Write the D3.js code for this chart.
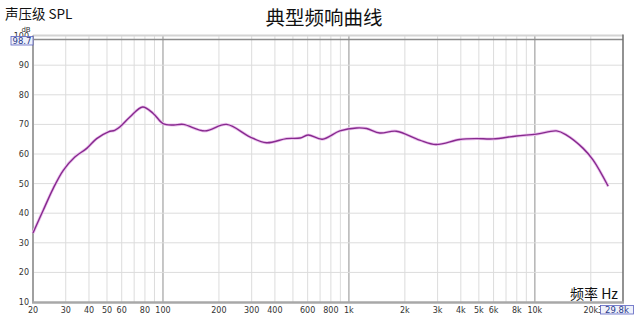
<!DOCTYPE html>
<html>
<head>
<meta charset="utf-8">
<script src="https://cdn.jsdelivr.net/npm/d3@7"></script>
<style>
  body { margin: 0; background: #fff; }
  svg { display: block; }
</style>
</head>
<body>
<svg id="chart" width="640" height="317"></svg>
<script>
// frequency response
const freqs = [20, 22.7, 25.7, 29.1, 33.6, 38.9, 44, 50.9, 55, 58.8, 66.4, 77.8, 88.6, 100, 113.7, 128.6, 168, 220, 293, 360, 462, 547, 603, 720, 894, 1100, 1245, 1466, 1800, 2400, 2940, 3940, 4840, 5960, 7980, 10200, 13100, 14800, 18200, 20600, 24800];
const spl = [33.3, 41.0, 48.4, 54.5, 59.0, 61.9, 65.2, 67.5, 68.0, 69.2, 72.5, 75.9, 73.7, 70.3, 69.8, 70.0, 67.8, 70.0, 65.8, 63.8, 65.2, 65.4, 66.4, 65.0, 67.8, 68.8, 68.6, 67.1, 67.7, 64.7, 63.2, 64.9, 65.2, 65.1, 66.1, 66.7, 67.8, 66.4, 61.9, 57.9, 49.1];

const xTickLabels = ["20", "30", "40", "50", "60", "80", "100", "200", "300", "400", "600", "800", "1k", "2k", "3k", "4k", "5k", "6k", "8k", "10k", "20k"];
const xTickValues = [20, 30, 40, 50, 60, 80, 100, 200, 300, 400, 600, 800, 1000, 2000, 3000, 4000, 5000, 6000, 8000, 10000, 20000];
const yTicks = [10, 20, 30, 40, 50, 60, 70, 80, 90, 100];
const fMin = 20, fMax = 29800, dbMin = 10, dbMax = 100, dbTop = 98.7;

const svg = d3.select("#chart");
const pLeft = 33, pRight = 623, pTop = 35.6, pBottom = 302;

const x = d3.scaleLog().domain([fMin, fMax]).range([pLeft, pRight]);
const y = d3.scaleLinear().domain([dbMin, dbMax]).range([pBottom, pTop]);

const tickFont = "DejaVu Sans, Verdana, sans-serif";
const cjk = "'Noto Sans CJK SC', sans-serif";

// vertical grid: every 1..9 step of each decade
const gridF = [];
for (let dec = 10; dec <= 10000; dec *= 10) {
  for (let m = 1; m <= 9; m++) {
    const f = dec * m;
    if (f > fMin && f < fMax) gridF.push(f);
  }
}
const decades = [100, 1000, 10000];
svg.append("g")
  .selectAll("line")
  .data(gridF)
  .join("line")
  .attr("x1", d => x(d)).attr("x2", d => x(d))
  .attr("y1", pTop).attr("y2", pBottom)
  .attr("stroke", d => decades.includes(d) ? "#b4b4b4" : "#dcdcdc")
  .attr("stroke-width", d => decades.includes(d) ? 1.5 : 1);

// horizontal grid
svg.append("g")
  .selectAll("line")
  .data(yTicks.filter(d => d > dbMin && d < dbMax))
  .join("line")
  .attr("x1", pLeft).attr("x2", pRight)
  .attr("y1", d => y(d)).attr("y2", d => y(d))
  .attr("stroke", "#dcdcdc");

// frame
svg.append("line").attr("x1", pLeft).attr("x2", pRight).attr("y1", pTop).attr("y2", pTop)
  .attr("stroke", "#d4d4d4").attr("stroke-width", 2);
svg.append("line").attr("x1", pLeft).attr("x2", pRight).attr("y1", y(dbTop)).attr("y2", y(dbTop))
  .attr("stroke", "#8c8c8c").attr("stroke-width", 1.5);
svg.append("line").attr("x1", pRight).attr("x2", pRight).attr("y1", pTop - 1).attr("y2", pBottom)
  .attr("stroke", "#6e6e6e").attr("stroke-width", 1.5);
svg.append("line").attr("x1", pLeft).attr("x2", pLeft).attr("y1", pTop).attr("y2", pBottom + 1)
  .attr("stroke", "#a0a0a0").attr("stroke-width", 2);
svg.append("line").attr("x1", pLeft - 1).attr("x2", pRight + 1).attr("y1", pBottom + 0.5).attr("y2", pBottom + 0.5)
  .attr("stroke", "#a8a8a8").attr("stroke-width", 2.5);

// y tick labels (100 sits mostly under the 98.7 marker)
svg.append("g")
  .selectAll("text")
  .data(yTicks)
  .join("text")
  .attr("x", pLeft - 4)
  .attr("y", d => y(d) + 3)
  .attr("text-anchor", "end")
  .attr("font-family", tickFont)
  .attr("font-size", 8)
  .attr("fill", "#333")
  .text(d => d);

// x tick labels
svg.append("g")
  .selectAll("text")
  .data(xTickValues)
  .join("text")
  .attr("x", d => x(d))
  .attr("y", 313)
  .attr("text-anchor", "middle")
  .attr("font-family", tickFont)
  .attr("font-size", 8)
  .attr("fill", "#333")
  .text((d, i) => xTickLabels[i]);

// "30k" label, squeezed against the edge and covered by the 29.8k marker
svg.append("text")
  .attr("x", x(20000) + 7)
  .attr("y", 313)
  .attr("font-family", tickFont)
  .attr("font-size", 8)
  .attr("fill", "#333")
  .text("30k");

// response curve
const pts = freqs.map((f, i) => [f, spl[i]]);
const line = d3.line()
  .x(d => x(d[0]))
  .y(d => y(d[1]))
  .curve(d3.curveCatmullRom.alpha(0.5));

svg.append("path").datum(pts)
  .attr("d", line).attr("fill", "none")
  .attr("stroke", "#ecc2ee").attr("stroke-width", 3);
svg.append("path").datum(pts)
  .attr("d", line).attr("fill", "none")
  .attr("stroke", "#862a8e").attr("stroke-width", 1.4);

// marker boxes
function marker(bx, by, w, txt) {
  svg.append("rect")
    .attr("x", bx).attr("y", by).attr("width", w).attr("height", 8.5)
    .attr("fill", "#eef1fb").attr("stroke", "#5a62c0").attr("stroke-width", 0.8);
  svg.append("text")
    .attr("x", bx + w / 2).attr("y", by + 7.5)
    .attr("text-anchor", "middle")
    .attr("font-family", tickFont).attr("font-size", 8.5)
    .attr("fill", "#2a3a8a")
    .text(txt);
}
marker(11, 36.5, 22, dbTop);
marker(600.5, 305.5, 33, "29.8k");

svg.append("text")
  .attr("x", 26).attr("y", 32)
  .attr("text-anchor", "middle")
  .attr("font-family", tickFont).attr("font-size", 7)
  .attr("fill", "#333")
  .text("dB");

// titles
svg.append("text")
  .attr("x", 324).attr("y", 25)
  .attr("text-anchor", "middle")
  .attr("font-family", cjk).attr("font-size", 19.5)
  .attr("fill", "#111")
  .text("典型频响曲线");
svg.append("text")
  .attr("x", 5).attr("y", 19)
  .attr("font-family", cjk).attr("font-size", 13.5)
  .attr("fill", "#111")
  .text("声压级 SPL");
svg.append("text")
  .attr("x", 618).attr("y", 299)
  .attr("text-anchor", "end")
  .attr("font-family", cjk).attr("font-size", 14)
  .attr("fill", "#111")
  .text("频率 Hz");
</script>
</body>
</html>
